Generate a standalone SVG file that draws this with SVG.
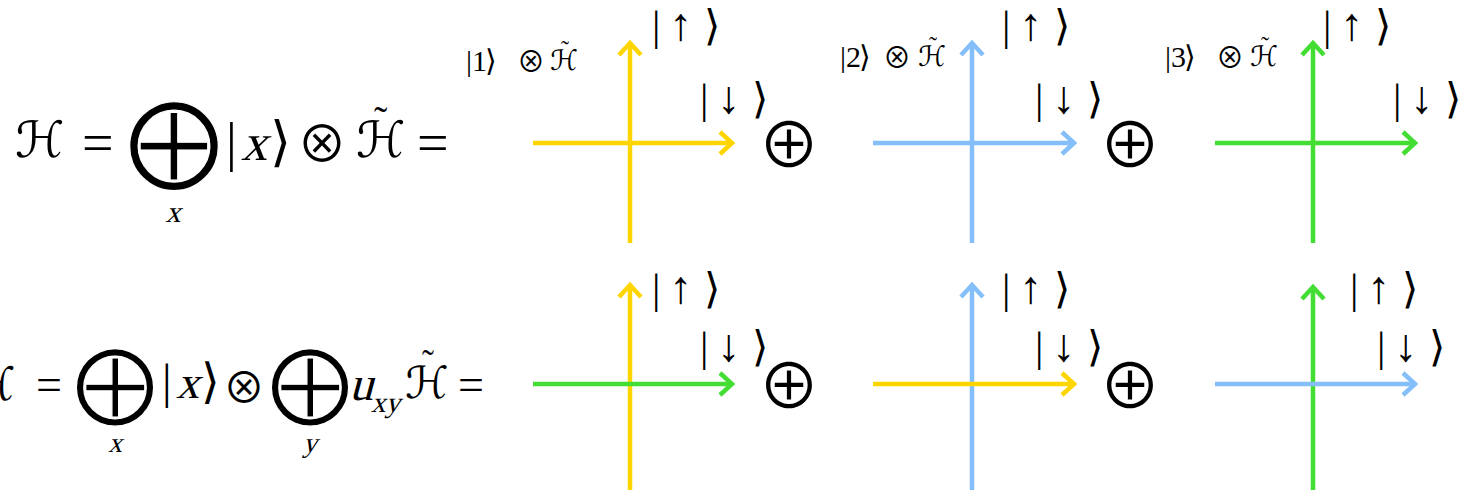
<svg xmlns="http://www.w3.org/2000/svg" width="1470" height="490" viewBox="0 0 1470 490">
<style>
.t{font-family:'Liberation Serif','Times New Roman',serif;fill:#000}
.m{font-family:'Noto Sans CJK JP','DejaVu Sans',sans-serif;fill:#000}
.s{font-family:'DejaVu Serif','DejaVu Sans',serif;font-style:italic;fill:#000}
.tl{font-family:'Liberation Serif','Times New Roman',serif;font-style:normal}
.big{font-family:'DejaVu Sans',sans-serif;fill:#000;stroke:#fff;stroke-width:1.2}
.ax{stroke-width:4.5;fill:none}
.y{stroke:#FFD500}
.b{stroke:#85BFFA}
.g{stroke:#44DD33}
</style>
<defs>
<marker id="ay" markerUnits="userSpaceOnUse" viewBox="-16 -14 20 28" markerWidth="20" markerHeight="28" refX="0" refY="0" orient="auto"><path d="M-12,-11 L0,0 L-12,11" fill="none" stroke="#FFD500" stroke-width="4.5"/></marker>
<marker id="ab" markerUnits="userSpaceOnUse" viewBox="-16 -14 20 28" markerWidth="20" markerHeight="28" refX="0" refY="0" orient="auto"><path d="M-12,-11 L0,0 L-12,11" fill="none" stroke="#85BFFA" stroke-width="4.5"/></marker>
<marker id="ag" markerUnits="userSpaceOnUse" viewBox="-16 -14 20 28" markerWidth="20" markerHeight="28" refX="0" refY="0" orient="auto"><path d="M-12,-11 L0,0 L-12,11" fill="none" stroke="#44DD33" stroke-width="4.5"/></marker>
</defs>
<rect width="1470" height="490" fill="#fff"/>

<g id="eq-top">
<text class="s" x="15" y="157" font-size="50">ℋ</text>
<text class="t" x="82" y="162" font-size="56">=</text>
<text class="big" x="174" y="172" font-size="94" text-anchor="middle">⨁</text>
<text class="t" transform="translate(173,222) skewX(-15)" font-size="30" text-anchor="middle">x</text>
<text class="t" x="226" y="160" font-size="54">|</text>
<text class="t" transform="translate(241,160) skewX(-15)" font-size="52">x</text>
<text class="m" x="270" y="160" font-size="54">⟩</text>
<text class="m" x="322" y="162" font-size="50" text-anchor="middle">⊗</text>
<text class="s" x="356" y="157" font-size="50">ℋ<tspan class="tl" x="374" y="134" font-size="40">˜</tspan></text>
<text class="t" x="417" y="162" font-size="56">=</text>
</g>

<g id="eq-bottom">
<text class="s" x="-30" y="400" font-size="46">ℋ</text>
<text class="t" x="36" y="400" font-size="46">=</text>
<text class="big" x="115" y="410" font-size="82" text-anchor="middle">⨁</text>
<text class="t" transform="translate(115,452) skewX(-15)" font-size="28" text-anchor="middle">x</text>
<text class="t" x="162" y="398" font-size="48">|</text>
<text class="t" transform="translate(176,398) skewX(-15)" font-size="46">x</text>
<text class="m" x="201" y="398" font-size="48">⟩</text>
<text class="m" x="244" y="403" font-size="42" text-anchor="middle">⊗</text>
<text class="big" x="310" y="410" font-size="82" text-anchor="middle">⨁</text>
<text class="t" transform="translate(310,452) skewX(-15)" font-size="28" text-anchor="middle">y</text>
<text class="t" transform="translate(349,400) skewX(-15)" font-size="48">u</text>
<text class="t" transform="translate(371,412) skewX(-15)" font-size="29">xy</text>
<text class="s" x="405" y="398" font-size="44">ℋ<tspan class="tl" x="422" y="375" font-size="36">˜</tspan></text>
<text class="t" x="458" y="400" font-size="46">=</text>
</g>

<g id="connectors">
<line class="ax y" x1="630" y1="243" x2="630" y2="43" marker-end="url(#ay)"/>
<line class="ax y" x1="533" y1="143" x2="732" y2="143" marker-end="url(#ay)"/>
<line class="ax b" x1="972" y1="243" x2="972" y2="43" marker-end="url(#ab)"/>
<line class="ax b" x1="873" y1="143" x2="1074" y2="143" marker-end="url(#ab)"/>
<line class="ax g" x1="1313" y1="243" x2="1313" y2="43" marker-end="url(#ag)"/>
<line class="ax g" x1="1215" y1="143" x2="1415" y2="143" marker-end="url(#ag)"/>
<line class="ax y" x1="630" y1="490" x2="630" y2="285" marker-end="url(#ay)"/>
<line class="ax g" x1="533" y1="384" x2="732" y2="384" marker-end="url(#ag)"/>
<line class="ax b" x1="972" y1="490" x2="972" y2="285" marker-end="url(#ab)"/>
<line class="ax y" x1="873" y1="384" x2="1074" y2="384" marker-end="url(#ay)"/>
<line class="ax g" x1="1313" y1="490" x2="1313" y2="287" marker-end="url(#ag)"/>
<line class="ax b" x1="1215" y1="384" x2="1415" y2="384" marker-end="url(#ab)"/>
</g>

<g id="panel-1-top">
<text class="t" x="466" y="71" font-size="30">|1</text>
<text class="m" x="485" y="71" font-size="30">⟩</text>
<text class="m" x="531" y="72" font-size="28" text-anchor="middle">⊗</text>
<text class="s" x="550" y="70" font-size="28">ℋ<tspan class="tl" x="561" y="57" font-size="24">˜</tspan></text>
<text class="t" x="652" y="40" font-size="42">|</text>
<text class="t" x="669" y="40" font-size="46">↑</text>
<text class="m" x="704" y="40" font-size="42">⟩</text>
<text class="t" x="700" y="113" font-size="42">|</text>
<text class="t" x="717" y="113" font-size="46">↓</text>
<text class="m" x="752" y="113" font-size="42">⟩</text>
<text class="m" x="789" y="168" font-size="62" text-anchor="middle">⊕</text>
</g>

<g id="panel-2-top">
<text class="t" x="840" y="67" font-size="30">|2</text>
<text class="m" x="859" y="67" font-size="30">⟩</text>
<text class="m" x="897" y="68" font-size="28" text-anchor="middle">⊗</text>
<text class="s" x="918" y="66" font-size="28">ℋ<tspan class="tl" x="929" y="53" font-size="24">˜</tspan></text>
<text class="t" x="1002" y="40" font-size="42">|</text>
<text class="t" x="1019" y="40" font-size="46">↑</text>
<text class="m" x="1054" y="40" font-size="42">⟩</text>
<text class="t" x="1035" y="113" font-size="42">|</text>
<text class="t" x="1052" y="113" font-size="46">↓</text>
<text class="m" x="1087" y="113" font-size="42">⟩</text>
<text class="m" x="1130" y="168" font-size="62" text-anchor="middle">⊕</text>
</g>

<g id="panel-3-top">
<text class="t" x="1165" y="67" font-size="30">|3</text>
<text class="m" x="1184" y="67" font-size="30">⟩</text>
<text class="m" x="1230" y="68" font-size="28" text-anchor="middle">⊗</text>
<text class="s" x="1250" y="66" font-size="28">ℋ<tspan class="tl" x="1261" y="53" font-size="24">˜</tspan></text>
<text class="t" x="1323" y="40" font-size="42">|</text>
<text class="t" x="1340" y="40" font-size="46">↑</text>
<text class="m" x="1375" y="40" font-size="42">⟩</text>
<text class="t" x="1393" y="113" font-size="42">|</text>
<text class="t" x="1410" y="113" font-size="46">↓</text>
<text class="m" x="1445" y="113" font-size="42">⟩</text>
</g>

<g id="panel-1-bottom">
<text class="t" x="652" y="303" font-size="42">|</text>
<text class="t" x="669" y="303" font-size="46">↑</text>
<text class="m" x="704" y="303" font-size="42">⟩</text>
<text class="t" x="700" y="361" font-size="42">|</text>
<text class="t" x="717" y="361" font-size="46">↓</text>
<text class="m" x="752" y="361" font-size="42">⟩</text>
<text class="m" x="789" y="409" font-size="62" text-anchor="middle">⊕</text>
</g>

<g id="panel-2-bottom">
<text class="t" x="1002" y="303" font-size="42">|</text>
<text class="t" x="1019" y="303" font-size="46">↑</text>
<text class="m" x="1054" y="303" font-size="42">⟩</text>
<text class="t" x="1035" y="361" font-size="42">|</text>
<text class="t" x="1052" y="361" font-size="46">↓</text>
<text class="m" x="1087" y="361" font-size="42">⟩</text>
<text class="m" x="1130" y="409" font-size="62" text-anchor="middle">⊕</text>
</g>

<g id="panel-3-bottom">
<text class="t" x="1350" y="303" font-size="42">|</text>
<text class="t" x="1367" y="303" font-size="46">↑</text>
<text class="m" x="1402" y="303" font-size="42">⟩</text>
<text class="t" x="1377" y="361" font-size="42">|</text>
<text class="t" x="1394" y="361" font-size="46">↓</text>
<text class="m" x="1429" y="361" font-size="42">⟩</text>
</g>
</svg>
